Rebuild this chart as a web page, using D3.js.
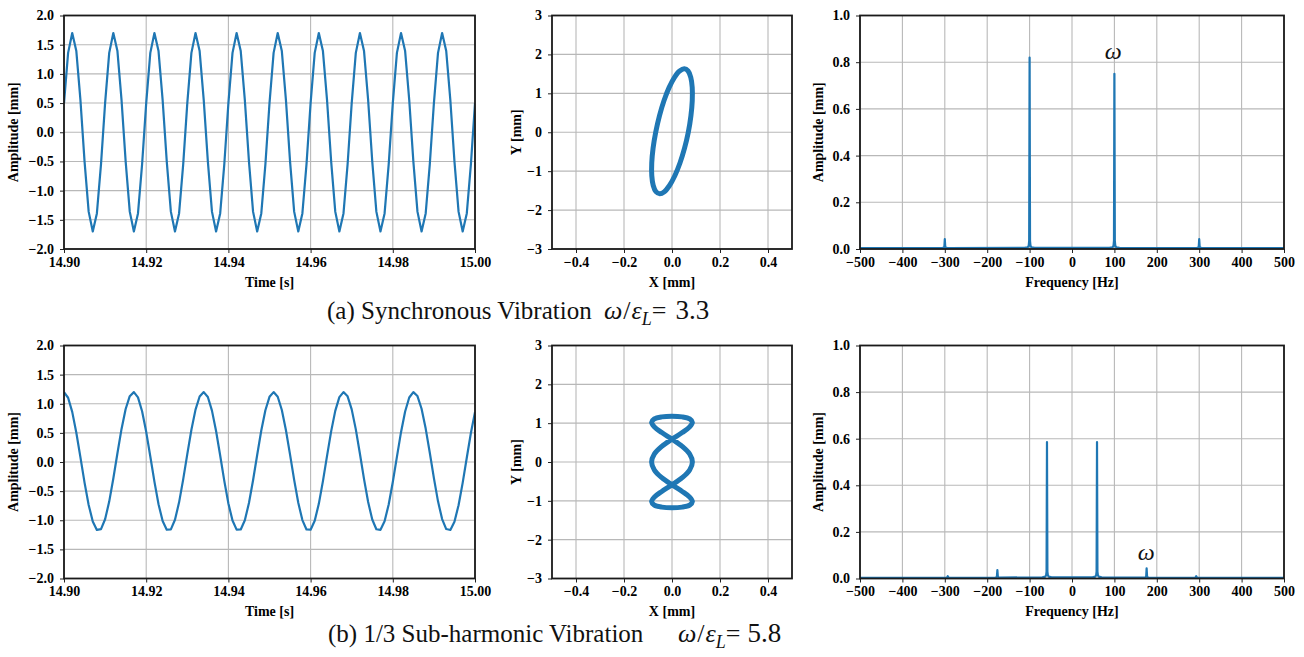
<!DOCTYPE html>
<html>
<head>
<meta charset="utf-8">
<script src="https://cdn.jsdelivr.net/npm/d3@7"></script>
<style>
  html, body { margin: 0; padding: 0; background: #fff; }
  svg { display: block; }
  .tick text { font-family: "Liberation Serif", "Times New Roman", serif; font-weight: bold; font-size: 14px; fill: #000; }
  .lbl { font-family: "Liberation Serif", "Times New Roman", serif; font-weight: bold; font-size: 14px; fill: #000; }
  .cap { font-family: "Liberation Serif", "Times New Roman", serif; font-size: 25px; fill: #111; }
</style>
</head>
<body>
<svg id="chart" width="1304" height="657"></svg>
<script>
// ---------------- DATA ----------------
const time = [14.900,14.901,14.902,14.903,14.904,14.905,14.906,14.907,14.908,14.909,
14.910,14.911,14.912,14.913,14.914,14.915,14.916,14.917,14.918,14.919,
14.920,14.921,14.922,14.923,14.924,14.925,14.926,14.927,14.928,14.929,
14.930,14.931,14.932,14.933,14.934,14.935,14.936,14.937,14.938,14.939,
14.940,14.941,14.942,14.943,14.944,14.945,14.946,14.947,14.948,14.949,
14.950,14.951,14.952,14.953,14.954,14.955,14.956,14.957,14.958,14.959,
14.960,14.961,14.962,14.963,14.964,14.965,14.966,14.967,14.968,14.969,
14.970,14.971,14.972,14.973,14.974,14.975,14.976,14.977,14.978,14.979,
14.980,14.981,14.982,14.983,14.984,14.985,14.986,14.987,14.988,14.989,
14.990,14.991,14.992,14.993,14.994,14.995,14.996,14.997,14.998,14.999,15.000];

// (a) synchronous vibration, amplitude [mm]
const ampSync = [0.50,1.36,1.70,1.39,0.55,-0.50,-1.36,-1.70,-1.39,-0.55,
0.50,1.36,1.70,1.39,0.55,-0.50,-1.36,-1.70,-1.39,-0.55,
0.50,1.36,1.70,1.39,0.55,-0.50,-1.36,-1.70,-1.39,-0.55,
0.50,1.36,1.70,1.39,0.55,-0.50,-1.36,-1.70,-1.39,-0.55,
0.50,1.36,1.70,1.39,0.55,-0.50,-1.36,-1.70,-1.39,-0.55,
0.50,1.36,1.70,1.39,0.55,-0.50,-1.36,-1.70,-1.39,-0.55,
0.50,1.36,1.70,1.39,0.55,-0.50,-1.36,-1.70,-1.39,-0.55,
0.50,1.36,1.70,1.39,0.55,-0.50,-1.36,-1.70,-1.39,-0.55,
0.50,1.36,1.70,1.39,0.55,-0.50,-1.36,-1.70,-1.39,-0.55,
0.50,1.36,1.70,1.39,0.55,-0.50,-1.36,-1.70,-1.39,-0.55,0.50];

// (b) 1/3 sub-harmonic vibration, amplitude [mm]
const ampSub = [1.199,1.103,0.861,0.503,0.080,-0.353,-0.737,-1.021,-1.166,-1.153,
-0.983,-0.680,-0.284,0.151,0.568,0.910,1.130,1.200,1.110,0.872,
0.518,0.095,-0.338,-0.725,-1.013,-1.163,-1.156,-0.992,-0.693,-0.299,
0.136,0.554,0.899,1.124,1.200,1.116,0.882,0.532,0.111,-0.323,
-0.713,-1.005,-1.161,-1.159,-1.000,-0.705,-0.314,0.120,0.540,0.889,
1.119,1.200,1.121,0.893,0.546,0.127,-0.308,-0.700,-0.997,-1.158,
-1.162,-1.008,-0.718,-0.329,0.105,0.526,0.878,1.113,1.200,1.127,
0.903,0.560,0.142,-0.293,-0.687,-0.988,-1.155,-1.164,-1.016,-0.730,
-0.344,0.089,0.512,0.867,1.107,1.200,1.132,0.914,0.574,0.158,
-0.278,-0.675,-0.980,-1.151,-1.167,-1.024,-0.742,-0.359,0.073,0.497,0.856];

// orbits [mm]
const orbitSyncX = [-0.0679,-0.0523,-0.0332,-0.0118,0.0104,0.0318,0.0512,0.0670,0.0782,0.0842,0.0844,0.0788,
0.0679,0.0523,0.0332,0.0118,-0.0104,-0.0318,-0.0512,-0.0670,-0.0782,-0.0842,-0.0844,-0.0788];
const orbitSyncY = [0,0.422,0.815,1.153,1.412,1.574,1.630,1.574,1.412,1.153,0.815,0.422,
0,-0.409,-0.790,-1.117,-1.368,-1.526,-1.580,-1.526,-1.368,-1.117,-0.790,-0.409];

const orbitSubX = [0,0.0425,0.0736,0.085,0.0736,0.0425,0,-0.0425,-0.0736,-0.085,-0.0736,-0.0425,
0,0.0425,0.0736,0.085,0.0736,0.0425,0,-0.0425,-0.0736,-0.085,-0.0736,-0.0425,
0,0.0425,0.0736,0.085,0.0736,0.0425,0,-0.0425,-0.0736,-0.085,-0.0736,-0.0425];
const orbitSubY = [1.180,1.162,1.109,1.022,0.904,0.758,0.590,0.404,0.205,0,-0.205,-0.404,
-0.590,-0.758,-0.904,-1.022,-1.109,-1.162,-1.180,-1.162,-1.109,-1.022,-0.904,-0.758,
-0.590,-0.404,-0.205,0,0.205,0.404,0.590,0.758,0.904,1.022,1.109,1.162];

// spectra
const fftSyncFreq = [-500,-306,-302,-301,-300,-299,-298,-294,
-112,-105,-103,-102,-101,-100,-99,-98,-97,-95,-88,
88,95,97,98,99,100,101,102,103,105,112,
294,298,299,300,301,302,306,500];
const fftSyncAmp = [0.004,0.004,0.006,0.012,0.042,0.012,0.006,0.004,
0.005,0.007,0.010,0.016,0.035,0.82,0.035,0.016,0.010,0.007,0.005,
0.005,0.007,0.010,0.016,0.035,0.75,0.035,0.016,0.010,0.007,0.005,
0.004,0.006,0.012,0.042,0.012,0.006,0.004,0.004];

const fftSubFreq = [-500,-296,-294,-293,-292,-290,
-180,-178,-177,-176,-175,-174,-172,
-70,-63,-61,-60,-59,-58,-57,-55,-48,
48,55,57,58,59,60,61,63,70,
172,174,175,176,177,178,180,
290,292,293,294,296,500];
const fftSubAmp = [0.003,0.003,0.005,0.010,0.005,0.003,
0.004,0.006,0.010,0.036,0.010,0.006,0.004,
0.005,0.008,0.014,0.030,0.585,0.030,0.014,0.008,0.005,
0.005,0.008,0.014,0.030,0.585,0.030,0.014,0.008,0.005,
0.004,0.006,0.010,0.044,0.010,0.006,0.004,
0.003,0.005,0.010,0.005,0.003,0.003];

// ticks
const timeTicks = [14.90,14.92,14.94,14.96,14.98,15.00];
const ampTicks = [-2.0,-1.5,-1.0,-0.5,0.0,0.5,1.0,1.5,2.0];
const orbitXTicks = [-0.4,-0.2,0.0,0.2,0.4];
const orbitYTicks = [-3,-2,-1,0,1,2,3];
const freqTicks = [-500,-400,-300,-200,-100,0,100,200,300,400,500];
const fftYTicks = [0.0,0.2,0.4,0.6,0.8,1.0];

// ---------------- DRAW ----------------
const svg = d3.select("#chart");
const BLUE = "#1f77b4";
let clipId = 0;

function panel(o) {
  const x = d3.scaleLinear().domain(o.xd).range([o.x0, o.x1]);
  const y = d3.scaleLinear().domain(o.yd).range([o.y1, o.y0]);
  const g = svg.append("g");
  const id = "clip" + (clipId++);
  svg.append("clipPath").attr("id", id).append("rect")
    .attr("x", o.x0).attr("y", o.y0).attr("width", o.x1 - o.x0).attr("height", o.y1 - o.y0);

  // grid
  g.append("g").selectAll("line").data(o.xt).join("line")
    .attr("x1", d => x(d)).attr("x2", d => x(d)).attr("y1", o.y0).attr("y2", o.y1)
    .attr("stroke", "#b8b8b8").attr("stroke-width", 1.1);
  g.append("g").selectAll("line").data(o.yt).join("line")
    .attr("y1", d => y(d)).attr("y2", d => y(d)).attr("x1", o.x0).attr("x2", o.x1)
    .attr("stroke", "#b8b8b8").attr("stroke-width", 1.1);

  // data
  const pts = o.xs.map((v, i) => [v, o.ys[i]]);
  const line = d3.line().x(d => x(d[0])).y(d => y(d[1]))
    .curve(o.closed ? d3.curveCatmullRomClosed : d3.curveLinear);
  g.append("path").attr("clip-path", `url(#${id})`).attr("d", line(pts))
    .attr("fill", "none").attr("stroke", BLUE).attr("stroke-width", o.sw)
    .attr("stroke-linejoin", "round");

  // axes
  const ax = g.append("g").attr("transform", `translate(0,${o.y1})`)
    .call(d3.axisBottom(x).tickValues(o.xt).tickFormat(o.xf).tickSize(4).tickPadding(4));
  const ay = g.append("g").attr("transform", `translate(${o.x0},0)`)
    .call(d3.axisLeft(y).tickValues(o.yt).tickFormat(o.yf).tickSize(4).tickPadding(6));
  [ax, ay].forEach(a => {
    a.select(".domain").remove();
    a.selectAll(".tick line").attr("stroke", "#222").attr("stroke-width", 1);
    a.selectAll(".tick text").attr("font-family", null).attr("font-size", null);
  });

  // frame
  g.append("rect").attr("x", o.x0).attr("y", o.y0).attr("width", o.x1 - o.x0).attr("height", o.y1 - o.y0)
    .attr("fill", "none").attr("stroke", "#1a1a1a").attr("stroke-width", 1.8);

  // labels
  g.append("text").attr("class", "lbl").attr("x", (o.x0 + o.x1) / 2).attr("y", o.xly)
    .attr("text-anchor", "middle").text(o.xl);
  g.append("text").attr("class", "lbl")
    .attr("transform", `translate(${o.ylx},${(o.y0 + o.y1) / 2}) rotate(-90)`)
    .attr("text-anchor", "middle").attr("dominant-baseline", "central").text(o.yl);

  return { x, y, g };
}

const f2 = d3.format(".2f"), f1 = d3.format(".1f"), fd = d3.format("d");
const rows = [
  { y0: 15.5, y1: 249, xly: 286.5 },
  { y0: 345.5, y1: 578.5, xly: 616 }
];
const series = [
  { amp: ampSync, ox: orbitSyncX, oy: orbitSyncY, ff: fftSyncFreq, fa: fftSyncAmp, w: [97, 0.815] },
  { amp: ampSub, ox: orbitSubX, oy: orbitSubY, ff: fftSubFreq, fa: fftSubAmp, w: [175, 0.08] }
];

rows.forEach((r, i) => {
  const s = series[i];
  panel({ x0: 64, x1: 475, y0: r.y0, y1: r.y1, xd: [14.90, 15.00], yd: [-2, 2],
    xt: timeTicks, yt: ampTicks, xf: f2, yf: f1, xs: time, ys: s.amp, sw: 2.2,
    xl: "Time [s]", yl: "Amplitude [mm]", xly: r.xly, ylx: 13.5 });
  panel({ x0: 552, x1: 792, y0: r.y0, y1: r.y1, xd: [-0.5, 0.5], yd: [-3, 3],
    xt: orbitXTicks, yt: orbitYTicks, xf: f1, yf: fd, xs: s.ox, ys: s.oy, sw: 5, closed: true,
    xl: "X [mm]", yl: "Y [mm]", xly: r.xly, ylx: 516 });
  const p = panel({ x0: 860, x1: 1284, y0: r.y0, y1: r.y1, xd: [-500, 500], yd: [0, 1],
    xt: freqTicks, yt: fftYTicks, xf: fd, yf: f1, xs: s.ff, ys: s.fa, sw: 2.2,
    xl: "Frequency [Hz]", yl: "Amplitude [mm]", xly: r.xly, ylx: 818 });
  p.g.append("text").attr("x", p.x(s.w[0])).attr("y", p.y(s.w[1]))
    .attr("text-anchor", "middle")
    .style("font-family", '"Liberation Serif", "Times New Roman", serif')
    .style("font-style", "italic").style("font-size", "24px").attr("fill", "#111").text("ω");
});

// captions
function caption(main, mainX, mathX, val, gap, baseY) {
  svg.append("text").attr("class", "cap").attr("x", mainX).attr("y", baseY).text(main);
  const t = svg.append("text").attr("class", "cap").attr("x", mathX).attr("y", baseY)
    .style("font-size", "26px");
  t.append("tspan").style("font-style", "italic").text("ω");
  t.append("tspan").attr("dx", 1).text("/");
  t.append("tspan").attr("dx", 1).style("font-style", "italic").text("ε");
  t.append("tspan").style("font-style", "italic").style("font-size", "18px").attr("dy", 6).text("L");
  t.append("tspan").attr("dy", -6).text("=");
  t.append("tspan").attr("dx", gap).style("font-size", "27px").text(val);
}
caption("(a) Synchronous Vibration", 327, 604, "3.3", 9, 319);
caption("(b) 1/3 Sub-harmonic Vibration", 328, 678, "5.8", 7, 642);
</script>
</body>
</html>
